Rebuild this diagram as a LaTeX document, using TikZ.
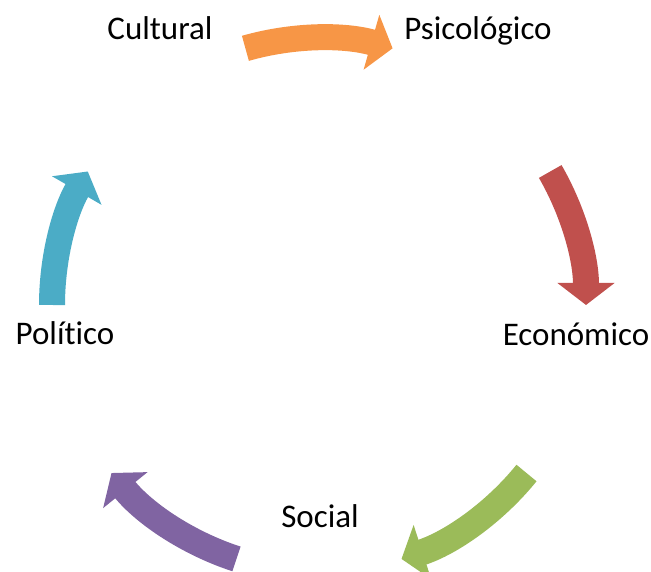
\documentclass[tikz,border=0pt]{standalone}
\usepackage{fontspec}
\setmainfont[RawFeature={-liga;-clig;-dlig}]{Carlito}
\usepackage{tikz}
\usetikzlibrary{arrows.meta}
\definecolor{cycorange}{RGB}{247,150,70}
\definecolor{cycred}{RGB}{192,80,77}
\definecolor{cycgreen}{RGB}{155,187,89}
\definecolor{cycpurple}{RGB}{128,100,162}
\definecolor{cycblue}{RGB}{75,172,198}

\begin{document}
\begin{tikzpicture}[x=1pt,y=1pt,
  word/.style={font=\fontsize{33}{40}\selectfont,anchor=base,inner sep=0pt},
  cycarrow/.style={line width=26pt,-{Triangle[width=56pt,length=22pt]}}
]
  \useasboundingbox (0,0) rectangle (651,572);
  \coordinate (mid) at (319,267);
  % texts round the cycle
  \node[word] (cultural) at (160,532) {Cultural};
  \node[word] (psico) at (478,532) {Psicológico};
  \node[word] (econ) at (576,226) {Económico};
  \node[word] (social) at (320,44) {Social};
  \node[word] (polit) at (65,227) {Polít\kern0pt ico};
  % arrows between them
  \coordinate (orange-tail) at ([shift={(106:267)}]mid);
  \coordinate (red-tail) at ([shift={(30:267)}]mid);
  \coordinate (green-tail) at ([shift={(-39:267)}]mid);
  \coordinate (purple-tail) at ([shift={(-108:267)}]mid);
  \coordinate (blue-tail) at ([shift={(180:267)}]mid);
  \draw[cycarrow,color=cycorange] (orange-tail) arc[start angle=106,end angle=74,radius=267];
  \draw[cycarrow,color=cycred] (red-tail) arc[start angle=30,end angle=0,radius=267];
  \draw[cycarrow,color=cycgreen] (green-tail) arc[start angle=-39,end angle=-72,radius=267];
  \draw[cycarrow,color=cycpurple] (purple-tail) arc[start angle=-108,end angle=-141,radius=267];
  \draw[cycarrow,color=cycblue] (blue-tail) arc[start angle=180,end angle=150,radius=267];
\end{tikzpicture}
\end{document}
